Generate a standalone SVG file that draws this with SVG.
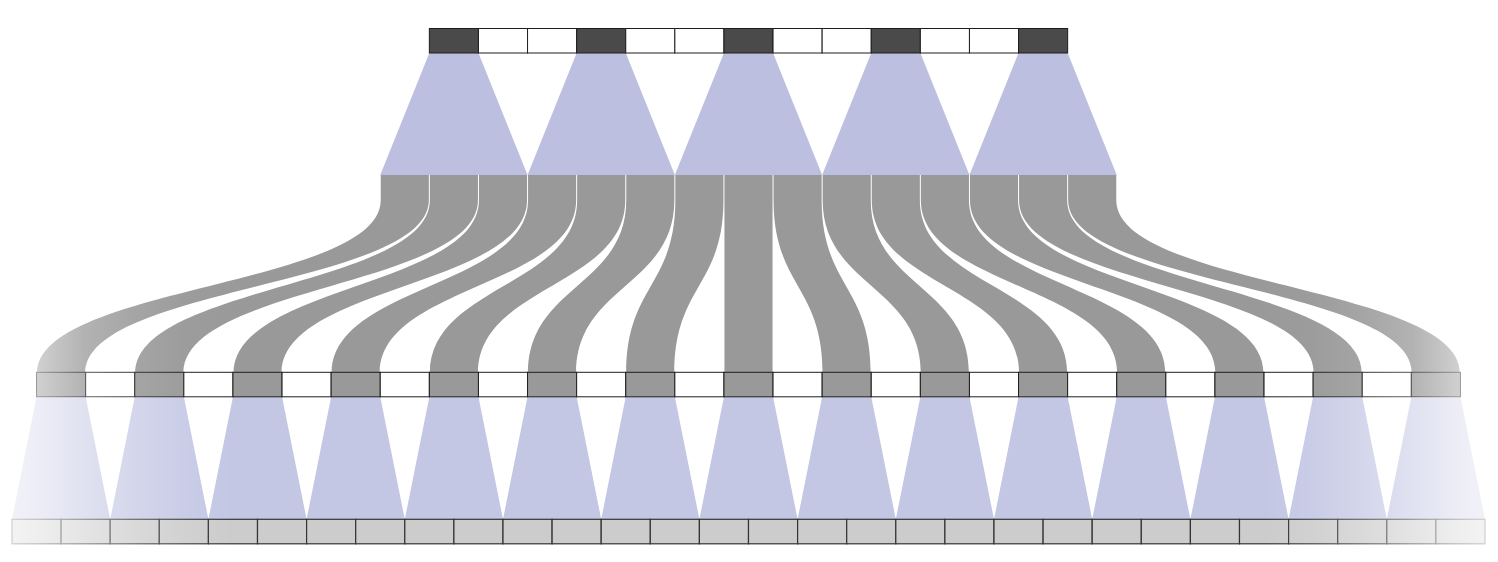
<svg xmlns="http://www.w3.org/2000/svg" width="1498" height="562" viewBox="0 0 1498 562">
<style>
.bg{fill:#ffffff}
.cell{stroke:#1e1e1e;stroke-width:1}
.dark{fill:#4a4a4a}
.white{fill:#ffffff}
.mid{fill:#999999}
.low{fill:#cccccc;stroke:#333333;stroke-width:1.2}
.fanTop{fill:#bcbfe0}
.fanLow{fill:#c4c7e4}
.rib{fill:#999999}
</style>
<defs>
<linearGradient id="fadeUL" gradientUnits="userSpaceOnUse" x1="0" y1="0" x2="250" y2="0">
<stop offset="0" stop-color="#fff" stop-opacity="0.7"/>
<stop offset="0.144" stop-color="#fff" stop-opacity="0.55"/>
<stop offset="0.34" stop-color="#fff" stop-opacity="0.25"/>
<stop offset="0.536" stop-color="#fff" stop-opacity="0.12"/>
<stop offset="0.75" stop-color="#fff" stop-opacity="0.03"/>
<stop offset="1" stop-color="#fff" stop-opacity="0"/>
</linearGradient>
<linearGradient id="fadeUR" gradientUnits="userSpaceOnUse" x1="1497" y1="0" x2="1247" y2="0">
<stop offset="0" stop-color="#fff" stop-opacity="0.7"/>
<stop offset="0.144" stop-color="#fff" stop-opacity="0.55"/>
<stop offset="0.34" stop-color="#fff" stop-opacity="0.25"/>
<stop offset="0.536" stop-color="#fff" stop-opacity="0.12"/>
<stop offset="0.75" stop-color="#fff" stop-opacity="0.03"/>
<stop offset="1" stop-color="#fff" stop-opacity="0"/>
</linearGradient>
<linearGradient id="fadeLL" gradientUnits="userSpaceOnUse" x1="0" y1="0" x2="250" y2="0">
<stop offset="0" stop-color="#fff" stop-opacity="0.8"/>
<stop offset="0.144" stop-color="#fff" stop-opacity="0.69"/>
<stop offset="0.34" stop-color="#fff" stop-opacity="0.48"/>
<stop offset="0.536" stop-color="#fff" stop-opacity="0.27"/>
<stop offset="0.732" stop-color="#fff" stop-opacity="0.11"/>
<stop offset="0.93" stop-color="#fff" stop-opacity="0"/>
</linearGradient>
<linearGradient id="fadeLR" gradientUnits="userSpaceOnUse" x1="1497" y1="0" x2="1247" y2="0">
<stop offset="0" stop-color="#fff" stop-opacity="0.8"/>
<stop offset="0.144" stop-color="#fff" stop-opacity="0.69"/>
<stop offset="0.34" stop-color="#fff" stop-opacity="0.48"/>
<stop offset="0.536" stop-color="#fff" stop-opacity="0.27"/>
<stop offset="0.732" stop-color="#fff" stop-opacity="0.11"/>
<stop offset="0.93" stop-color="#fff" stop-opacity="0"/>
</linearGradient>
</defs>
<rect class="bg" x="0" y="0" width="1498" height="562"/>

<g id="top-fans">
<polygon class="fanTop" points="429.35,53 478.45,53 527.55,175 380.25,175"/>
<polygon class="fanTop" points="576.65,53 625.75,53 674.85,175 527.55,175"/>
<polygon class="fanTop" points="723.95,53 773.05,53 822.15,175 674.85,175"/>
<polygon class="fanTop" points="871.25,53 920.35,53 969.45,175 822.15,175"/>
<polygon class="fanTop" points="1018.55,53 1067.65,53 1116.75,175 969.45,175"/>
</g>

<g id="top-row">
<rect class="cell dark" x="429.35" y="28.5" width="49.1" height="24.5"/>
<rect class="cell white" x="478.45" y="28.5" width="49.1" height="24.5"/>
<rect class="cell white" x="527.55" y="28.5" width="49.1" height="24.5"/>
<rect class="cell dark" x="576.65" y="28.5" width="49.1" height="24.5"/>
<rect class="cell white" x="625.75" y="28.5" width="49.1" height="24.5"/>
<rect class="cell white" x="674.85" y="28.5" width="49.1" height="24.5"/>
<rect class="cell dark" x="723.95" y="28.5" width="49.1" height="24.5"/>
<rect class="cell white" x="773.05" y="28.5" width="49.1" height="24.5"/>
<rect class="cell white" x="822.15" y="28.5" width="49.1" height="24.5"/>
<rect class="cell dark" x="871.25" y="28.5" width="49.1" height="24.5"/>
<rect class="cell white" x="920.35" y="28.5" width="49.1" height="24.5"/>
<rect class="cell white" x="969.45" y="28.5" width="49.1" height="24.5"/>
<rect class="cell dark" x="1018.55" y="28.5" width="49.1" height="24.5"/>
</g>

<g id="connectors">
<path class="rib" d="M380.75 175V200C380.75 286 37.05 286 37.05 373H85.15C85.15 286 428.85 286 428.85 200V175Z"/>
<path class="rib" d="M429.85 175V200C429.85 286 135.25 286 135.25 373H183.35C183.35 286 477.95 286 477.95 200V175Z"/>
<path class="rib" d="M478.95 175V200C478.95 286 233.45 286 233.45 373H281.55C281.55 286 527.05 286 527.05 200V175Z"/>
<path class="rib" d="M528.05 175V200C528.05 286 331.65 286 331.65 373H379.75C379.75 286 576.15 286 576.15 200V175Z"/>
<path class="rib" d="M577.15 175V200C577.15 286 429.85 286 429.85 373H477.95C477.95 286 625.25 286 625.25 200V175Z"/>
<path class="rib" d="M626.25 175V200C626.25 286 528.05 286 528.05 373H576.15C576.15 286 674.35 286 674.35 200V175Z"/>
<path class="rib" d="M675.35 175V200C675.35 286 626.25 286 626.25 373H674.35C674.35 286 723.45 286 723.45 200V175Z"/>
<path class="rib" d="M724.45 175V373H772.55V175Z"/>
<path class="rib" d="M773.55 175V200C773.55 286 822.65 286 822.65 373H870.75C870.75 286 821.65 286 821.65 200V175Z"/>
<path class="rib" d="M822.65 175V200C822.65 286 920.85 286 920.85 373H968.95C968.95 286 870.75 286 870.75 200V175Z"/>
<path class="rib" d="M871.75 175V200C871.75 286 1019.05 286 1019.05 373H1067.15C1067.15 286 919.85 286 919.85 200V175Z"/>
<path class="rib" d="M920.85 175V200C920.85 286 1117.25 286 1117.25 373H1165.35C1165.35 286 968.95 286 968.95 200V175Z"/>
<path class="rib" d="M969.95 175V200C969.95 286 1215.45 286 1215.45 373H1263.55C1263.55 286 1018.05 286 1018.05 200V175Z"/>
<path class="rib" d="M1019.05 175V200C1019.05 286 1313.65 286 1313.65 373H1361.75C1361.75 286 1067.15 286 1067.15 200V175Z"/>
<path class="rib" d="M1068.15 175V200C1068.15 286 1411.85 286 1411.85 373H1459.95C1459.95 286 1116.25 286 1116.25 200V175Z"/>
</g>

<g id="bottom-fans">
<polygon class="fanLow" points="36.55,396.8 85.65,396.8 110.2,519.3 12,519.3"/>
<polygon class="fanLow" points="134.75,396.8 183.85,396.8 208.4,519.3 110.2,519.3"/>
<polygon class="fanLow" points="232.95,396.8 282.05,396.8 306.6,519.3 208.4,519.3"/>
<polygon class="fanLow" points="331.15,396.8 380.25,396.8 404.8,519.3 306.6,519.3"/>
<polygon class="fanLow" points="429.35,396.8 478.45,396.8 503,519.3 404.8,519.3"/>
<polygon class="fanLow" points="527.55,396.8 576.65,396.8 601.2,519.3 503,519.3"/>
<polygon class="fanLow" points="625.75,396.8 674.85,396.8 699.4,519.3 601.2,519.3"/>
<polygon class="fanLow" points="723.95,396.8 773.05,396.8 797.6,519.3 699.4,519.3"/>
<polygon class="fanLow" points="822.15,396.8 871.25,396.8 895.8,519.3 797.6,519.3"/>
<polygon class="fanLow" points="920.35,396.8 969.45,396.8 994,519.3 895.8,519.3"/>
<polygon class="fanLow" points="1018.55,396.8 1067.65,396.8 1092.2,519.3 994,519.3"/>
<polygon class="fanLow" points="1116.75,396.8 1165.85,396.8 1190.4,519.3 1092.2,519.3"/>
<polygon class="fanLow" points="1214.95,396.8 1264.05,396.8 1288.6,519.3 1190.4,519.3"/>
<polygon class="fanLow" points="1313.15,396.8 1362.25,396.8 1386.8,519.3 1288.6,519.3"/>
<polygon class="fanLow" points="1411.35,396.8 1460.45,396.8 1485,519.3 1386.8,519.3"/>
</g>

<g id="mid-row">
<rect class="cell mid" x="36.55" y="372.3" width="49.1" height="24.5"/>
<rect class="cell white" x="85.65" y="372.3" width="49.1" height="24.5"/>
<rect class="cell mid" x="134.75" y="372.3" width="49.1" height="24.5"/>
<rect class="cell white" x="183.85" y="372.3" width="49.1" height="24.5"/>
<rect class="cell mid" x="232.95" y="372.3" width="49.1" height="24.5"/>
<rect class="cell white" x="282.05" y="372.3" width="49.1" height="24.5"/>
<rect class="cell mid" x="331.15" y="372.3" width="49.1" height="24.5"/>
<rect class="cell white" x="380.25" y="372.3" width="49.1" height="24.5"/>
<rect class="cell mid" x="429.35" y="372.3" width="49.1" height="24.5"/>
<rect class="cell white" x="478.45" y="372.3" width="49.1" height="24.5"/>
<rect class="cell mid" x="527.55" y="372.3" width="49.1" height="24.5"/>
<rect class="cell white" x="576.65" y="372.3" width="49.1" height="24.5"/>
<rect class="cell mid" x="625.75" y="372.3" width="49.1" height="24.5"/>
<rect class="cell white" x="674.85" y="372.3" width="49.1" height="24.5"/>
<rect class="cell mid" x="723.95" y="372.3" width="49.1" height="24.5"/>
<rect class="cell white" x="773.05" y="372.3" width="49.1" height="24.5"/>
<rect class="cell mid" x="822.15" y="372.3" width="49.1" height="24.5"/>
<rect class="cell white" x="871.25" y="372.3" width="49.1" height="24.5"/>
<rect class="cell mid" x="920.35" y="372.3" width="49.1" height="24.5"/>
<rect class="cell white" x="969.45" y="372.3" width="49.1" height="24.5"/>
<rect class="cell mid" x="1018.55" y="372.3" width="49.1" height="24.5"/>
<rect class="cell white" x="1067.65" y="372.3" width="49.1" height="24.5"/>
<rect class="cell mid" x="1116.75" y="372.3" width="49.1" height="24.5"/>
<rect class="cell white" x="1165.85" y="372.3" width="49.1" height="24.5"/>
<rect class="cell mid" x="1214.95" y="372.3" width="49.1" height="24.5"/>
<rect class="cell white" x="1264.05" y="372.3" width="49.1" height="24.5"/>
<rect class="cell mid" x="1313.15" y="372.3" width="49.1" height="24.5"/>
<rect class="cell white" x="1362.25" y="372.3" width="49.1" height="24.5"/>
<rect class="cell mid" x="1411.35" y="372.3" width="49.1" height="24.5"/>
</g>

<g id="bottom-row">
<rect class="low" x="12" y="519.3" width="49.1" height="24.5"/>
<rect class="low" x="61.1" y="519.3" width="49.1" height="24.5"/>
<rect class="low" x="110.2" y="519.3" width="49.1" height="24.5"/>
<rect class="low" x="159.3" y="519.3" width="49.1" height="24.5"/>
<rect class="low" x="208.4" y="519.3" width="49.1" height="24.5"/>
<rect class="low" x="257.5" y="519.3" width="49.1" height="24.5"/>
<rect class="low" x="306.6" y="519.3" width="49.1" height="24.5"/>
<rect class="low" x="355.7" y="519.3" width="49.1" height="24.5"/>
<rect class="low" x="404.8" y="519.3" width="49.1" height="24.5"/>
<rect class="low" x="453.9" y="519.3" width="49.1" height="24.5"/>
<rect class="low" x="503" y="519.3" width="49.1" height="24.5"/>
<rect class="low" x="552.1" y="519.3" width="49.1" height="24.5"/>
<rect class="low" x="601.2" y="519.3" width="49.1" height="24.5"/>
<rect class="low" x="650.3" y="519.3" width="49.1" height="24.5"/>
<rect class="low" x="699.4" y="519.3" width="49.1" height="24.5"/>
<rect class="low" x="748.5" y="519.3" width="49.1" height="24.5"/>
<rect class="low" x="797.6" y="519.3" width="49.1" height="24.5"/>
<rect class="low" x="846.7" y="519.3" width="49.1" height="24.5"/>
<rect class="low" x="895.8" y="519.3" width="49.1" height="24.5"/>
<rect class="low" x="944.9" y="519.3" width="49.1" height="24.5"/>
<rect class="low" x="994" y="519.3" width="49.1" height="24.5"/>
<rect class="low" x="1043.1" y="519.3" width="49.1" height="24.5"/>
<rect class="low" x="1092.2" y="519.3" width="49.1" height="24.5"/>
<rect class="low" x="1141.3" y="519.3" width="49.1" height="24.5"/>
<rect class="low" x="1190.4" y="519.3" width="49.1" height="24.5"/>
<rect class="low" x="1239.5" y="519.3" width="49.1" height="24.5"/>
<rect class="low" x="1288.6" y="519.3" width="49.1" height="24.5"/>
<rect class="low" x="1337.7" y="519.3" width="49.1" height="24.5"/>
<rect class="low" x="1386.8" y="519.3" width="49.1" height="24.5"/>
<rect class="low" x="1435.9" y="519.3" width="49.1" height="24.5"/>
</g>

<g id="edge-fade">
<rect x="0" y="170" width="250" height="227" fill="url(#fadeUL)"/>
<rect x="1247" y="170" width="251" height="227" fill="url(#fadeUR)"/>
<rect x="0" y="397" width="250" height="165" fill="url(#fadeLL)"/>
<rect x="1247" y="397" width="251" height="165" fill="url(#fadeLR)"/>
</g>
</svg>
